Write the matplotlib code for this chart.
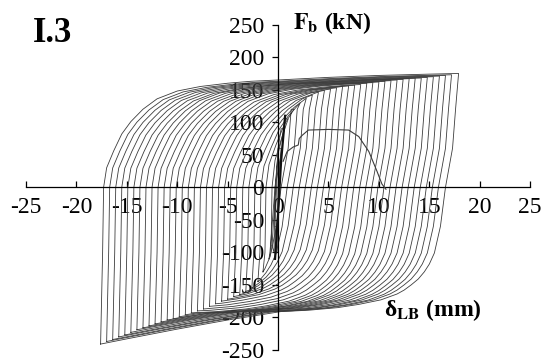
import numpy as np
import matplotlib
matplotlib.use('Agg')
import matplotlib.pyplot as plt

plt.rcParams['font.family'] = ['Liberation Serif', 'DejaVu Serif']
plt.rcParams['mathtext.fontset'] = 'stix'
plt.rcParams['axes.unicode_minus'] = False

# peak displacements (mm) of each cycle, positive and negative side
disp_pos = [0.3, 0.6, 1.0, 1.6, 2.2, 2.8, 3.4, 4.0, 4.6, 5.2, 5.8, 6.4, 7.0, 7.6, 8.2, 8.8,
            9.4, 10.0, 10.6, 11.2, 11.8, 12.4, 13.0, 13.6, 14.2, 14.8, 15.4, 16.0, 16.6, 17.2, 17.9]
disp_neg = [0.3, 0.6, 0.9, 1.5, 2.0, 2.6, 3.2, 3.8, 4.4, 5.0, 5.6, 6.2, 6.8, 7.4, 8.0, 8.6,
            9.2, 9.8, 10.4, 11.0, 11.6, 12.2, 12.8, 13.4, 14.0, 14.6, 15.2, 15.8, 16.4, 17.0, 17.6]
# peak forces (kN)
force_pos = [60, 90, 105, 120, 130, 137, 142, 146, 149, 151, 153, 155, 156, 157, 158, 160,
             161, 162, 163, 164, 165, 166, 167, 168, 168, 169, 170, 171, 172, 173, 175]
force_neg = [-60, -90, -110, -130, -145, -155, -160, -165, -168, -172, -175, -179, -183, -187,
             -190, -193, -196, -199, -202, -204, -207, -210, -213, -216, -219, -223, -227,
             -230, -234, -237, -241]

# shape of the outer loop
# loading branch: distance from the negative peak (mm), force (kN)
up_s = [0.0, 0.2, 0.3, 0.6, 1.3, 2.1, 3.0, 4.2, 5.6, 7.6, 9.9, 12.6, 14.9, 17.6, 22.6, 27.6, 32.6, 35.5]
up_f = [-240, -100, 0, 30, 56, 82, 101, 120, 136, 148, 155, 160, 163, 165, 169, 172, 174, 175]
# unloading branch: distance from the positive peak (mm), force (kN)
dn_t = [0.0, 0.3, 0.6, 1.3, 1.8, 2.4, 2.9, 3.4, 4.0, 4.7, 5.4, 6.1, 7.7, 9.9, 12.0, 14.9, 17.6,
        22.9, 27.9, 32.9, 35.5]
dn_f = [172, 120, 60, 0, -60, -101, -118, -130, -141, -150, -158, -164, -173, -180, -185, -189,
        -191, -204, -218, -233, -241]

# monotonic curve and initial elastic cycles
mono_x = [0.5, 0.9, 1.5, 2.0, 2.1, 2.4, 3.0, 5.0, 7.0, 8.0, 9.0, 9.8, 10.3, 10.7]
mono_f = [40, 55, 62, 65, 75, 80, 88, 89, 88, 78, 55, 25, 5, -3]
elastic_x = [-0.3, 0.0, 0.3, 0.7]
elastic_f = [-110, -40, 40, 110]

fig = plt.figure(figsize=(5.41, 3.63), dpi=100)
ax = fig.add_axes([0.048, 0.036, 0.932, 0.896])

lc = '#3c3c3c'
for dp, dn, fp, fn in zip(disp_pos, disp_neg, force_pos, force_neg):
	span = dp + dn
	# the outer loop shape is squeezed so each branch lands on this cycle's peak
	k_up = fp / max(np.interp(span, up_s, up_f), 1.0)
	k_dn = fn / min(np.interp(span, dn_t, dn_f), -1.0)

	# loading branch from (-dn, fn) to (dp, fp)
	xs = [-dn]
	fs = [fn]
	for s, f in zip(up_s[1:], up_f[1:]):
		if s >= span:
			break
		xs.append(-dn + s)
		fs.append(f * k_up if f > 0 else f)
	xs.append(dp)
	fs.append(fp)
	# unloading branch from (dp, fp) back to (-dn, fn)
	for t, f in zip(dn_t[1:], dn_f[1:]):
		if t >= span:
			break
		xs.append(dp - t)
		fs.append(f * k_dn if f < 0 else min(f, fp))
	xs.append(-dn)
	fs.append(fn)
	ax.plot(xs, fs, color=lc, lw=0.6, zorder=2)

ax.plot(mono_x, mono_f, color=lc, lw=0.8, zorder=3)
ax.plot(elastic_x, elastic_f, color='#111111', lw=1.6, zorder=3)

ax.set_xlim(-25, 25)
ax.set_ylim(-250, 250)
ax.spines['left'].set_position(('data', 0))
ax.spines['bottom'].set_position(('data', 0))
ax.spines['right'].set_visible(False)
ax.spines['top'].set_visible(False)
ax.spines['left'].set_linewidth(0.9)
ax.spines['bottom'].set_linewidth(0.9)
ax.set_xticks(np.arange(-25, 26, 5))
ax.set_yticks(np.arange(-250, 251, 50))
ax.tick_params(axis='x', direction='in', length=4, width=0.9, pad=7, labelsize=17)
ax.tick_params(axis='y', direction='out', length=4, width=0.9, pad=6, labelsize=17)
ax.set_axisbelow(True)
ax.patch.set_visible(False)

fig.text(0.061, 0.884, 'I.3', fontsize=25, fontweight='bold', ha='left', va='baseline')
fig.text(0.614, 0.936, r'$\mathbf{F}_{\mathbf{b}}$ (kN)', fontsize=17, fontweight='bold',
         ha='center', va='center')
fig.text(0.80, 0.146, r'δ$_{\mathbf{LB}}$ (mm)', fontsize=17, fontweight='bold',
         ha='center', va='center')

fig.savefig('out.png', dpi=100)
